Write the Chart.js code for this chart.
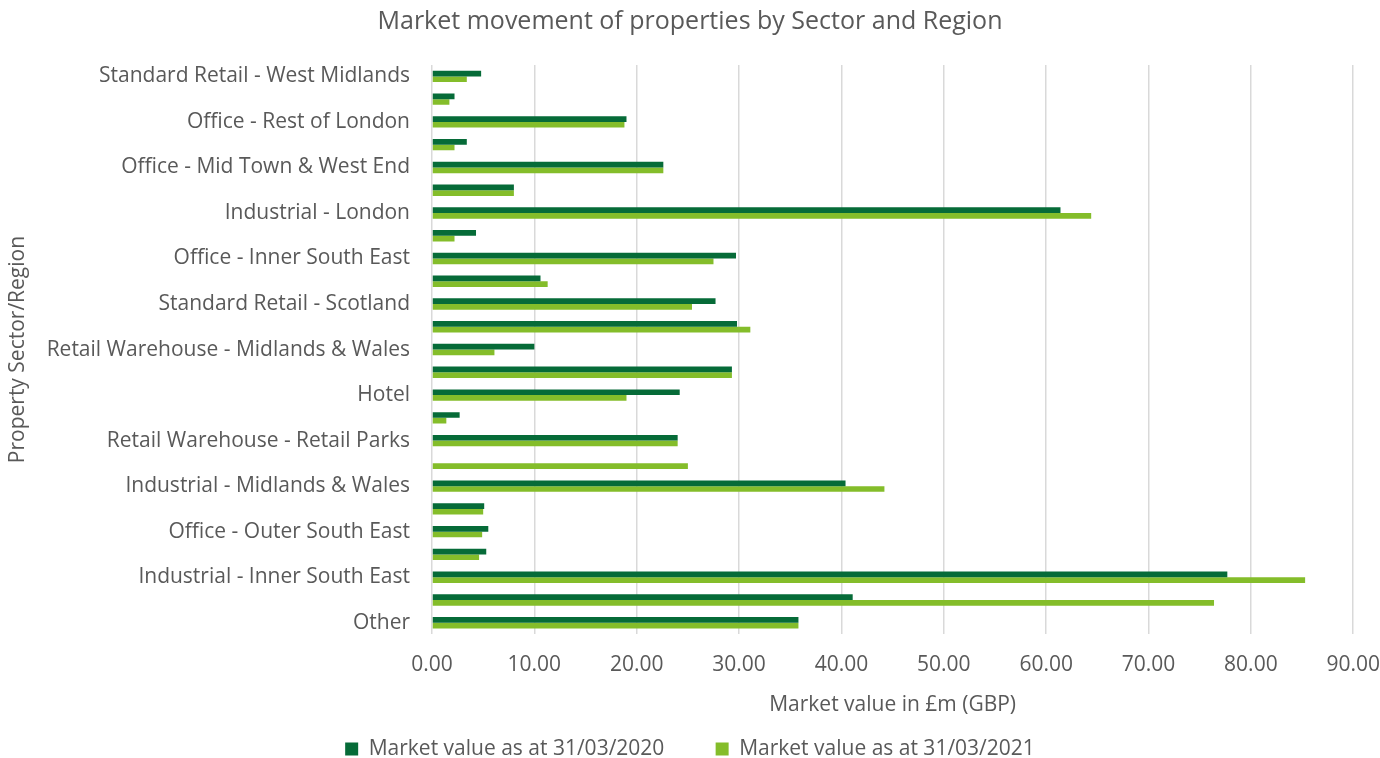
<!DOCTYPE html>
<html>
<head>
<meta charset="utf-8">
<script src="https://cdn.jsdelivr.net/npm/chart.js@4.4.1/dist/chart.umd.min.js"></script>
<style>
  html, body { margin: 0; padding: 0; background: #ffffff; }
  #wrap { width: 1380px; height: 758px; position: relative; }
</style>
</head>
<body>
<div id="wrap"><canvas id="chart"></canvas></div>
<script>
// Sectors/regions, top to bottom; only every other one carries a printed label
const categories = [
  "Standard Retail - West Midlands", "",
  "Office - Rest of London", "",
  "Office - Mid Town & West End", "",
  "Industrial - London", "",
  "Office - Inner South East", "",
  "Standard Retail - Scotland", "",
  "Retail Warehouse - Midlands & Wales", "",
  "Hotel", "",
  "Retail Warehouse - Retail Parks", "",
  "Industrial - Midlands & Wales", "",
  "Office - Outer South East", "",
  "Industrial - Inner South East", "",
  "Other"
];

// Market value in £m (GBP)
const value2020 = [
  4.8, 2.2, 19.0, 3.4, 22.6, 8.0, 61.4, 4.3, 29.7, 10.6,
  27.7, 29.8, 10.0, 29.3, 24.2, 2.7, 24.0, 0.0, 40.4, 5.1,
  5.5, 5.3, 77.7, 41.1, 35.8
];
const value2021 = [
  3.4, 1.7, 18.8, 2.2, 22.6, 8.0, 64.4, 2.2, 27.5, 11.3,
  25.4, 31.1, 6.1, 29.3, 19.0, 1.4, 24.0, 25.0, 44.2, 5.0,
  4.9, 4.6, 85.3, 76.4, 35.8
];

const seriesNames = ["Market value as at 31/03/2020", "Market value as at 31/03/2021"];
const xTicks = [0, 10, 20, 30, 40, 50, 60, 70, 80, 90];

const FONT = "'Open Sans', sans-serif";
const GREY = "#595959";

new Chart(document.getElementById("chart"), {
  type: "bar",
  data: {
    labels: categories,
    datasets: [
      { label: seriesNames[0], data: value2020, backgroundColor: "#066B38" },
      { label: seriesNames[1], data: value2021, backgroundColor: "#84BD2A" }
    ]
  },
  options: {
    indexAxis: "y",
    responsive: true,
    maintainAspectRatio: false,
    animation: false,
    datasets: { bar: { categoryPercentage: 0.5, barPercentage: 1.0 } },
    layout: { padding: { left: 0, right: 0, top: 0, bottom: -11.5 } },
    plugins: {
      title: {
        display: true,
        text: "Market movement of properties by Sector and Region",
        color: GREY,
        font: { family: FONT, size: 25, weight: "normal" },
        padding: { top: 7, bottom: 28 }
      },
      legend: {
        position: "bottom",
        labels: {
          color: GREY,
          font: { family: FONT, size: 21 },
          boxWidth: 13,
          boxHeight: 13,
          padding: 24,
          // wider spacing between the two entries than the label padding alone gives
          generateLabels: (chart) => {
            const items = Chart.defaults.plugins.legend.labels.generateLabels(chart);
            if (items.length) items[0].text = items[0].text + "     ";
            return items;
          }
        }
      },
      tooltip: { enabled: true }
    },
    scales: {
      x: {
        min: 0,
        max: 90,
        afterBuildTicks: (s) => { s.ticks = xTicks.map(v => ({ value: v })); },
        ticks: {
          color: GREY,
          font: { family: FONT, size: 21 },
          padding: 0,
          callback: (v) => Number(v).toFixed(2)
        },
        // invisible tick marks keep the labels clear of the plot area
        grid: {
          color: "#d9d9d9",
          lineWidth: 1.5,
          drawTicks: true,
          tickLength: 18,
          tickColor: "rgba(0,0,0,0)"
        },
        border: { display: false },
        title: {
          display: true,
          text: "Market value in £m (GBP)",
          color: GREY,
          font: { family: FONT, size: 21 },
          padding: { top: 15, bottom: -3 }
        }
      },
      y: {
        afterFit: (s) => { s.width = 432; },
        ticks: {
          color: GREY,
          font: { family: FONT, size: 21 },
          autoSkip: false,
          padding: 22
        },
        grid: { display: false, drawTicks: false },
        border: { display: false },
        title: {
          display: true,
          text: "Property Sector/Region",
          color: GREY,
          font: { family: FONT, size: 21 },
          padding: { top: 5, bottom: 0 }
        }
      }
    }
  }
});
</script>
</body>
</html>
